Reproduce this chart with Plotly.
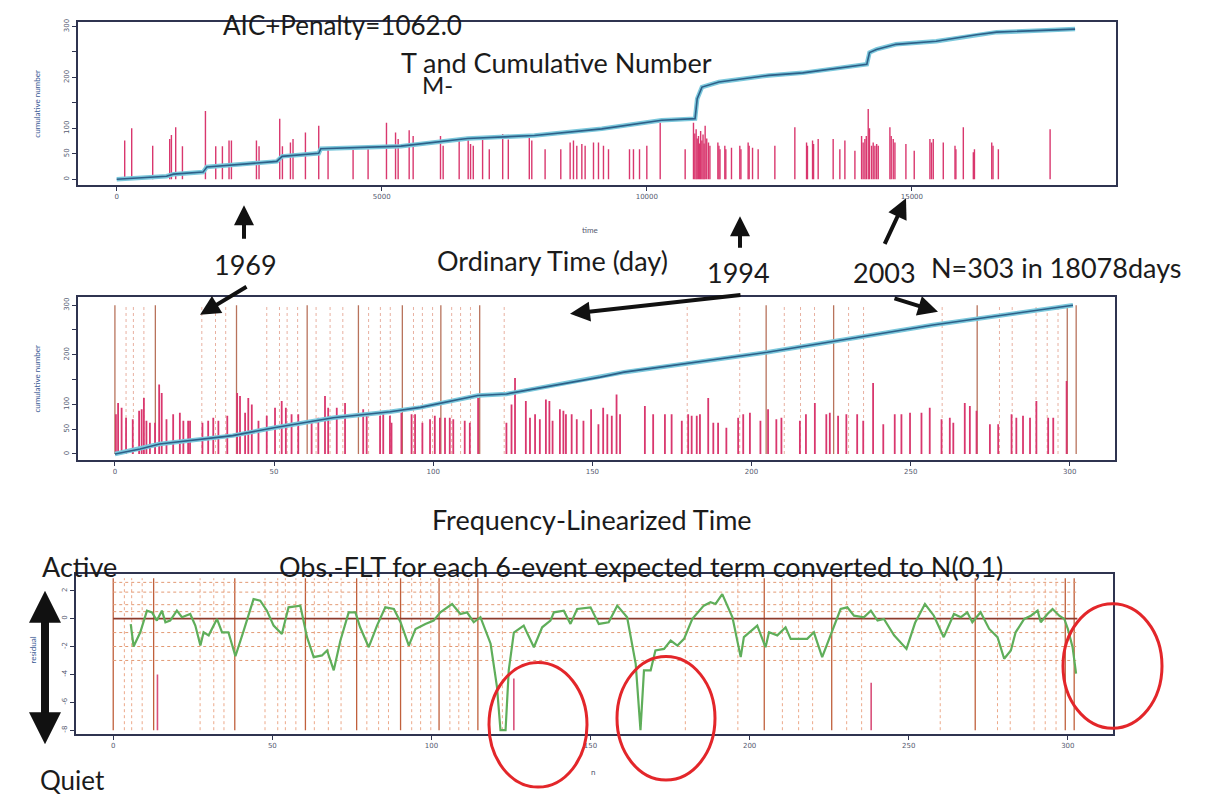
import plotly.graph_objects as go

OX, OY = 8, 8          # page offset of the plot inside the browser body
FW, FH = 1203, 790     # figure size
def px(x): return (x - OX) / FW
def py(y): return 1 - (y - OY) / FH

# ---------------- data ----------------
n_events = 303
total_days = 18078

# top panel: cumulative number vs ordinary time (days)
top_cum_day = [0, 940, 1070, 1630, 1700, 3020, 3120, 3810, 3850, 5360, 6620, 7880, 9150,
               10280, 10910, 10950, 11040, 11360, 12300, 12940, 14150, 14200, 14330, 14700,
               15460, 16220, 16600, 17200, 18078]
top_cum_n = [0, 6, 10, 14, 24, 35, 45, 51, 60, 65, 80, 86, 99, 116, 119, 158, 181, 191, 204,
             209, 226, 249, 255, 265, 271, 284, 289, 291, 295]

# top panel: event magnitude bars (day, height)
top_bar_day = [151, 283, 679, 1000, 1032, 1113, 1240, 1674, 1868, 1994, 2119, 2164, 2636, 2685,
               3075, 3126, 3277, 3326, 3560, 3811, 3987, 4459, 4742, 5089, 5260, 5309, 5517,
               5592, 6108, 6158, 6460, 6630, 6675, 6726, 6902, 7028, 7281, 7387, 7783, 7830,
               8081, 8377, 8553, 8616, 8679, 8774, 8836, 8994, 9088, 9182, 9277, 9673, 9748,
               9862, 10000, 10252, 10723, 10880, 10905, 10930, 10950, 10974, 10995, 11015,
               11038, 11060, 11080, 11100, 11130, 11163, 11190,
               11340, 11360, 11380, 11471, 11490, 11597, 11754, 11775, 11911, 11930, 11994,
               12100, 12415, 12792, 13013, 13030, 13126, 13145, 13232, 13515, 13641, 13736,
               13925, 14051, 14080, 14113, 14140, 14176, 14200, 14239, 14270, 14302, 14335,
               14365, 14585, 14610, 14648, 14680, 14887, 15044, 15340, 15370, 15403, 15592,
               15813, 15830, 15970, 16159, 16180, 16506, 16530, 16631, 17607]
top_bar_h = [76, 100, 66, 79, 87, 102, 65, 134, 65, 65, 76, 76, 76, 65,
             119, 65, 72, 79, 92, 105, 59, 63, 59, 111, 92, 79, 96,
             85, 85, 66, 76, 79, 69, 66, 82, 59, 89, 78, 87, 76,
             59, 59, 72, 76, 66, 69, 66, 72, 72, 66, 59, 59, 59,
             59, 66, 111, 59, 111, 90, 98, 80, 85, 70, 95,
             76, 88, 70, 105, 80, 72, 66,
             72, 66, 59, 66, 59, 62, 66, 59, 72, 66, 62,
             59, 66, 102, 72, 66, 76, 69, 79, 79, 59, 76,
             56, 85, 72, 79, 85, 138, 100, 66, 72, 66, 69,
             66, 102, 85, 79, 72, 69, 56, 79, 72, 79, 72,
             66, 59, 102, 53, 59, 72, 66, 59, 98]

# middle panel: cumulative number vs frequency-linearized time
mid_cum_t = [0, 7.9, 14, 37, 50, 68.6, 86.5, 96, 114, 123, 152.5, 160, 205, 257, 301]
mid_cum_n = [0, 10, 20, 37, 53, 73, 85, 94, 118, 121, 155, 165, 205, 260, 300]

# middle panel: event bars (FLT, height)
mid_bar_t = [0.3, 1.0, 2.1, 3.5, 5.6, 7.6, 8.4, 9.1, 9.9, 11.0, 12.6, 13.9, 14.7, 16.2, 18.3,
             20.4, 21.5, 23.0, 23.6, 27.5, 29.3, 30.9, 32.5, 35.3, 38.4, 39.3, 40.9, 41.9,
             43.0, 45.1, 47.7, 50.3, 52.4, 53.7, 55.5, 57.6, 61.8, 63.9, 66.0, 67.0, 69.7,
             72.3, 78.0, 79.1, 83.3, 84.3, 86.4, 86.9, 90.0, 93.2, 94.3, 96.6, 99.0, 100.5,
             102.1, 103.7, 105.2, 106.3, 109.9, 111.5, 114.1, 123.0, 124.6, 125.7, 129.1,
             130.4, 132.0, 133.5, 135.4, 136.5, 137.5, 139.8, 140.9, 141.7, 143.5, 145.1,
             147.2, 149.6, 151.9, 153.4, 154.7, 156.1, 157.6, 158.7, 166.5, 169.1, 172.8,
             174.9, 178.1, 180.1, 181.2, 182.8, 183.8, 186.4, 188.0, 189.5, 192.1, 195.8,
             197.4, 199.5, 202.8, 205.2, 207.8, 209.4, 215.2, 217.1, 219.9, 223.5, 224.6,
             227.2, 229.8, 233.2, 235.1, 238.2, 241.4, 245.0, 247.1, 249.8, 253.4, 256.0,
             259.7, 262.3, 263.4, 267.0, 268.6, 270.7, 274.9, 277.5, 281.7, 283.2, 285.3,
             287.5, 289.5, 293.2, 294.8, 299.0]
mid_bar_h = [80, 103, 93, 73, 70, 87, 90, 113, 67, 63, 63, 140, 123, 70, 80,
             83, 67, 67, 67, 63, 67, 73, 67, 77, 123, 117, 83, 113,
             100, 67, 77, 93, 107, 93, 80, 80, 67, 73, 117, 93, 93,
             103, 90, 80, 77, 80, 77, 63, 83, 80, 80, 63, 70, 77,
             73, 73, 73, 70, 67, 63, 113, 63, 100, 153, 107,
             73, 80, 70, 110, 107, 67, 90, 87, 80, 80, 70,
             67, 90, 60, 93, 80, 77, 120, 80, 97, 80, 80,
             80, 67, 80, 77, 77, 80, 113, 63, 63, 53, 73,
             80, 83, 67, 90, 70, 73, 67, 80, 103, 80, 83,
             77, 80, 80, 67, 143, 60, 80, 80, 83, 83, 93,
             70, 73, 63, 103, 97, 87, 60, 60, 80, 73, 77,
             73, 107, 73, 73, 147]

# vertical reference lines (FLT positions) in middle and bottom panels
vline_strong = [0.0, 12.7, 38.2, 60.4, 76.5, 90.3, 102.4, 114.6, 204.6, 225.8, 270.9, 299.2, 302.0]
vline_faint = [3.5, 5.8, 9.1, 27.3, 31.6, 34.8, 47.7, 51.7, 54.1, 57.4, 63.2, 67.6, 71.6, 79.7,
               83.4, 86.5, 93.8, 96.6, 99.8, 105.8, 108.6, 111.7, 122.3, 179.8, 196.3, 210.3,
               215.4, 219.8, 230.5, 235.2, 259.9, 277.9, 281.9, 289.4, 292.9, 296.3]

# bottom panel: residual (Obs.-FLT converted to N(0,1))
res_t = [5.5, 6.4, 8.5, 10.6, 12.2, 13.7, 15.3, 16.4, 17.9, 20.0, 21.6, 24.2, 25.8, 27.4, 28.4,
         30.0, 32.6, 34.2, 36.2, 38.4, 41.0, 44.1, 46.2, 48.3, 50.4, 53.0, 55.1, 58.8, 60.9,
         63.0, 65.6, 67.2, 69.3, 71.4, 74.0, 76.1, 77.6, 80.3, 82.9, 85.5, 88.2, 90.3, 92.9,
         95.0, 98.1, 100.7, 102.8, 106.5, 109.1, 111.2, 113.3, 115.4, 118.6, 120.6, 121.7,
         123.3, 124.3, 125.9, 129.0, 132.2, 134.8, 137.4, 138.5, 141.6, 143.7, 145.8, 150.0,
         152.6, 155.7, 158.4, 161.5, 164.2, 165.7, 166.8, 168.9, 170.4, 173.1, 175.2, 177.3,
         179.4, 182.0, 185.6, 187.7, 189.3, 191.4, 194.6, 197.2, 198.2, 202.4, 205.0, 206.1,
         208.7, 211.3, 212.9, 218.1, 220.2, 222.8, 225.5, 228.6, 230.7, 232.8, 235.9, 238.1,
         240.2, 242.2, 245.4, 249.3, 252.0, 255.1, 257.9, 261.0, 264.2, 266.4, 268.4, 270.0,
         272.6, 275.3, 277.9, 280.0, 282.1, 283.6, 286.3, 288.4, 290.5, 291.5, 293.6, 295.2,
         297.3, 298.9, 300.0, 301.5, 302.6]
res_v = [-0.4, -2.0, -0.98, 0.57, 0.45, -0.14, 0.57, -0.26, -0.14, 0.57, 0.1, 0.33, -0.5, -1.93, -0.98,
         -1.2, -0.02, -0.98, -0.98, -2.7, -0.86, 1.4, 1.29, 0.57, -0.5, -1.1, 0.81, 0.93, -1.33,
         -2.76, -2.64, -2.28, -3.71, -1.57, 0.45, 0.45, -0.62, -2.05, -0.5, 0.81, 0.69, -0.26, -1.93,
         -0.74, -0.38, -0.14, 0.45, 1.05, 0.33, 0.45, -0.26, 0.1, -1.8, -4.9, -8.0,
         -8.0, -3.71, -1.0, -0.5, -2.05, -0.62, -0.14, 0.45, 0.57, -0.38, 0.69, 0.81,
         -0.38, -0.26, 0.93, 0.1, -3.24, -8.0, -3.71, -3.71, -2.28, -2.17, -1.57, -1.93,
         -1.45, -0.02, 0.93, 1.17, 1.05, 1.76, 0.1, -2.76, -1.33, -0.5, -2.05, -0.98,
         -1.2, -0.62, -1.45, -1.45, -0.98, -2.76, -1.2, 0.69, 0.81, 0.21, 0.1, 0.57,
         -0.14, -0.02, -1.2, -2.17, -0.3, 1.05, 0.21, -1.33, 0.33, 0.1, 0.45, -0.26,
         0.45, -0.74, -1.33, -2.88, -2.28, -0.98, -0.02, 0.21, 0.57, -0.26, 0.33, 0.69,
         0.21, -0.02, -0.74, -2.05, -3.95]
res_levels = [2.6, 1.9, 1.0, 0.5, -1.0, -2.0, -3.0]
big_event_t = [13.9, 125.9, 238.2]
big_event_top = [-4.0, -4.3, -4.6]

top_x_ticks = [0, 5000, 10000, 15000]
flt_ticks = [0, 50, 100, 150, 200, 250, 300]
cum_ticks = [0, 50, 100, 150, 200, 250, 300]
cum_text = ['0', '50', '100', '', '200', '', '300']
res_ticks = [-8, -6, -4, -2, 0, 2]

# ---------------- figure ----------------
fig = go.Figure()

def segs(xs, lo, hi):
    X, Y = [], []
    for x, a, b in zip(xs, lo, hi):
        X += [x, x, None]
        Y += [a, b, None]
    return X, Y

BAR = '#d9376e'
# top panel
bx, by = segs(top_bar_day, [0] * len(top_bar_day), top_bar_h)
fig.add_trace(go.Scatter(x=bx, y=by, mode='lines', line=dict(color=BAR, width=1.4),
                         xaxis='x', yaxis='y', hoverinfo='skip'))
fig.add_trace(go.Scatter(x=top_cum_day, y=top_cum_n, mode='lines',
                         line=dict(color='#7cc8dc', width=4.5), xaxis='x', yaxis='y'))
fig.add_trace(go.Scatter(x=top_cum_day, y=top_cum_n, mode='lines',
                         line=dict(color='#2d5f88', width=1.6), xaxis='x', yaxis='y'))

# middle panel
vs_x, vs_y = segs(vline_strong, [0] * len(vline_strong), [300] * len(vline_strong))
vf_x, vf_y = segs(vline_faint, [0] * len(vline_faint), [300] * len(vline_faint))
fig.add_trace(go.Scatter(x=vf_x, y=vf_y, mode='lines', line=dict(color='#e8b0a0', width=1, dash='dot'),
                         xaxis='x2', yaxis='y2', hoverinfo='skip'))
fig.add_trace(go.Scatter(x=vs_x, y=vs_y, mode='lines', line=dict(color='#b8735c', width=1.3),
                         xaxis='x2', yaxis='y2', hoverinfo='skip'))
mx, my = segs(mid_bar_t, [0] * len(mid_bar_t), mid_bar_h)
fig.add_trace(go.Scatter(x=mx, y=my, mode='lines', line=dict(color=BAR, width=1.8),
                         xaxis='x2', yaxis='y2', hoverinfo='skip'))
fig.add_trace(go.Scatter(x=mid_cum_t, y=mid_cum_n, mode='lines',
                         line=dict(color='#7cc8dc', width=4.5), xaxis='x2', yaxis='y2'))
fig.add_trace(go.Scatter(x=mid_cum_t, y=mid_cum_n, mode='lines',
                         line=dict(color='#2d5f88', width=1.6), xaxis='x2', yaxis='y2'))

# bottom panel
b_lo, b_hi = -8.0, 2.9
vs3_x, vs3_y = segs(vline_strong, [b_lo] * len(vline_strong), [b_hi] * len(vline_strong))
vf3_x, vf3_y = segs(vline_faint, [b_lo] * len(vline_faint), [b_hi] * len(vline_faint))
fig.add_trace(go.Scatter(x=vf3_x, y=vf3_y, mode='lines', line=dict(color='#eca98a', width=1, dash='dot'),
                         xaxis='x3', yaxis='y3', hoverinfo='skip'))
fig.add_trace(go.Scatter(x=vs3_x, y=vs3_y, mode='lines', line=dict(color='#c0603c', width=1.3),
                         xaxis='x3', yaxis='y3', hoverinfo='skip'))
hx, hy = [], []
for lv in res_levels:
    hx += [0, n_events, None]
    hy += [lv, lv, None]
fig.add_trace(go.Scatter(x=hx, y=hy, mode='lines', line=dict(color='#e39a74', width=1, dash='dot'),
                         xaxis='x3', yaxis='y3', hoverinfo='skip'))
fig.add_trace(go.Scatter(x=[0, n_events], y=[0, 0], mode='lines', line=dict(color='#8c3b2c', width=1.6),
                         xaxis='x3', yaxis='y3', hoverinfo='skip'))
ex, ey = segs(big_event_t, [b_lo] * len(big_event_t), big_event_top)
fig.add_trace(go.Scatter(x=ex, y=ey, mode='lines', line=dict(color='#d9507a', width=1.6),
                         xaxis='x3', yaxis='y3', hoverinfo='skip'))
fig.add_trace(go.Scatter(x=res_t, y=res_v, mode='lines', line=dict(color='#5fae5a', width=2.2),
                         xaxis='x3', yaxis='y3'))

AX = '#2f3450'
TF = dict(family='DejaVu Sans', size=7, color='#555a70')
def xax(dom, rng, anchor, vals):
    return dict(domain=dom, range=rng, anchor=anchor, tickvals=vals,
                ticktext=[str(v) for v in vals], showline=True, mirror=True,
                linecolor=AX, linewidth=1.5, ticks='outside', ticklen=4, tickcolor=AX,
                showgrid=False, zeroline=False, tickfont=TF)
def yax(dom, rng, anchor, vals, text):
    return dict(domain=dom, range=rng, anchor=anchor, tickvals=vals, ticktext=text, showline=True,
                mirror=True, linecolor=AX, linewidth=1.5, ticks='outside', ticklen=4, tickcolor=AX,
                showgrid=False, zeroline=False, tickfont=TF, tickangle=-90)

fig.update_layout(
    width=FW, height=FH, margin=dict(l=0, r=0, t=0, b=0),
    paper_bgcolor='white', plot_bgcolor='white', showlegend=False,
    xaxis=xax([px(78), px(1116)], [-730, 18850], 'y', top_x_ticks),
    yaxis=yax([py(183), py(19)], [-12, 309], 'x', cum_ticks, cum_text),
    xaxis2=xax([px(78), px(1115)], [-11.6, 314.2], 'y2', flt_ticks),
    yaxis2=yax([py(459), py(295)], [-12.7, 316.7], 'x2', cum_ticks, cum_text),
    xaxis3=xax([px(76), px(1113)], [-11.7, 314.2], 'y3', flt_ticks),
    yaxis3=yax([py(734), py(573)], [-8.29, 3.21], 'x3', res_ticks, [str(v) for v in res_ticks]),
)

FONT = 'Lato'
def txt(s, x, y, size=27, color='#1b1b1b', angle=0):
    fig.add_annotation(text=s, x=px(x), y=py(y), xref='paper', yref='paper', showarrow=False,
                       xanchor='center', yanchor='middle', textangle=angle,
                       font=dict(family=FONT, size=size, color=color))

txt('AIC+Penalty=1062.0', 342, 22, size=26)
txt('T and Cumulative Number', 556, 60)
txt('M-', 437, 82, size=24)
txt('1969', 245, 262)
txt('Ordinary Time (day)', 552, 258)
txt('1994', 738, 270)
txt('2003', 884, 270)
txt('N=303 in 18078days', 1056, 265)
txt('Frequency-Linearized Time', 592, 518)
txt('Active', 79, 566)
txt('Obs.-FLT for each 6-event expected term converted to N(0,1)', 641, 566)
txt('Quiet', 72, 780, size=26)
# small axis titles
small = '#3b5a95'
txt('cumulative number', 37, 101, size=8, color=small, angle=-90)
txt('cumulative number', 37, 377, size=8, color=small, angle=-90)
txt('residual', 33, 650, size=8, color=small, angle=-90)
txt('time', 590, 228, size=8, color='#555a70')
txt('n', 593, 772, size=8, color='#555a70')

def arrow(hx_, hy_, tx_, ty_, w=4, size=1.0, side='end'):
    fig.add_annotation(x=px(hx_), y=py(hy_), xref='paper', yref='paper', text='',
                       showarrow=True, ax=tx_ - hx_, ay=ty_ - hy_, arrowhead=2,
                       arrowwidth=w, arrowsize=size, arrowcolor='#111111', arrowside=side)

arrow(244, 203, 244, 238)
arrow(740, 214, 740, 247)
arrow(906, 196, 884, 243)
arrow(200, 313, 248, 284)
arrow(570, 312, 742, 293)
arrow(938, 310, 893, 296)
fig.add_annotation(x=px(45), y=py(590), xref='paper', yref='paper', text='', showarrow=True,
                   ax=0, ay=155, arrowhead=2, arrowwidth=8, arrowsize=0.8,
                   arrowcolor='#111111', arrowside='end+start')

for (x0, x1, y0, y1) in [(489, 587, 662, 787), (617, 715, 656, 780), (1063, 1162, 603, 728)]:
    fig.add_shape(type='circle', xref='paper', yref='paper', x0=px(x0), x1=px(x1),
                  y0=py(y1), y1=py(y0), line=dict(color='#e3262a', width=3))

fig.write_html('out.html')
